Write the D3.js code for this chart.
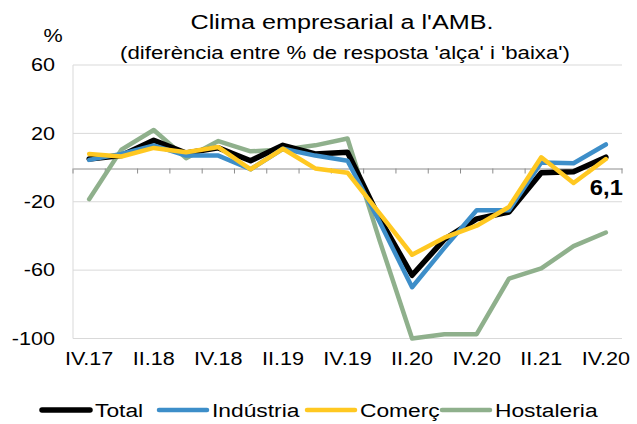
<!DOCTYPE html>
<html>
<head>
  <meta charset="utf-8">
  <title>Clima empresarial a l'AMB</title>
  <script src="https://cdnjs.cloudflare.com/ajax/libs/d3/7.8.5/d3.min.js"></script>
  <style>
    body { margin: 0; background: #fff; }
    text { font-family: "Liberation Sans", Arial, sans-serif; fill: #000; }
  </style>
</head>
<body>
<div id="chart"></div>
<script>

// quarters IV.17 .. IV.21 (the last label reads IV.20 on the original)
var quarters = ['IV.17','I.18','II.18','III.18','IV.18','I.19','II.19','III.19','IV.19',
                'I.20','II.20','III.20','IV.20','I.21','II.21','III.21','IV.20'];

var total      = [5, 7, 16, 8.5, 11.5, 4, 13, 8, 9, -30, -63, -42, -30, -26, -3, -2.5, 6.1];
var industria  = [4.5, 8, 13, 7, 7, -1, 11, 7, 4, -32, -70, -47, -25, -25, 3, 2.5, 13.5];
var comerc     = [8, 6.5, 11.5, 9, 12, -1, 11, -0.5, -3, -27, -51, -41, -34, -23, 6, -9, 5];
var hostaleria = [-18.5, 10.5, 22, 5.5, 15.5, 9.5, 10.5, 13, 17, -43, -100, -97.5, -97.5, -65, -59, -46, -38];

var yTicks = [60, 20, -20, -60, -100];

var series = [
  {name: 'Total',      values: total,      color: '#000000', width: 5.5},
  {name: 'Indústria',  values: industria,  color: '#3d8ec9', width: 4.5},
  {name: 'Comerç',     values: comerc,     color: '#ffc821', width: 4.5},
  {name: 'Hostaleria', values: hostaleria, color: '#8fb08c', width: 4.5}
];
// draw order: back to front
var drawOrder = [series[3], series[0], series[1], series[2]];

var W = 637, H = 424;
var SX = 1.2; // the original's text is a bit wide

var svg = d3.select('#chart').append('svg')
  .attr('width', W).attr('height', H);

// place a text at (px,py) stretched horizontally
function wide(px, py, k) {
  return 'translate(' + px + ',' + py + ') scale(' + (k || SX) + ',1)';
}

var x = d3.scaleBand()
  .domain(d3.range(quarters.length))
  .range([73, 622]);

var y = d3.scaleLinear()
  .domain([-100, 60])
  .range([338.5, 65]);

// gridlines
svg.append('g').selectAll('line')
  .data(yTicks)
  .enter().append('line')
  .attr('x1', 73).attr('x2', 622)
  .attr('y1', function(d){ return y(d); })
  .attr('y2', function(d){ return y(d); })
  .attr('stroke', '#d9d9d9').attr('stroke-width', 1);

// vertical axis line
svg.append('line')
  .attr('x1', 73).attr('x2', 73)
  .attr('y1', y(60)).attr('y2', y(-100))
  .attr('stroke', '#d9d9d9');

// y tick labels
svg.append('g').selectAll('text')
  .data(yTicks)
  .enter().append('text')
  .attr('transform', function(d){ return wide(55, y(d)); })
  .attr('dy', '0.35em')
  .attr('text-anchor', 'end')
  .style('font-size', '18px')
  .text(function(d){ return d; });

// category axis at zero with tick marks between categories
var xAxis = d3.axisBottom(x)
  .tickValues([])
  .tickSizeOuter(0);
var gx = svg.append('g')
  .attr('transform', 'translate(0,' + Math.round(y(0)) + '.5)')
  .call(xAxis);
gx.select('.domain').attr('stroke', '#8c8c8c');
gx.selectAll('.bound')
  .data(d3.range(quarters.length + 1))
  .enter().append('line')
  .attr('x1', function(i){ return i < quarters.length ? x(i) : x.range()[1]; })
  .attr('x2', function(i){ return i < quarters.length ? x(i) : x.range()[1]; })
  .attr('y1', 0).attr('y2', 5)
  .attr('stroke', '#8c8c8c');

// x labels, every other quarter, along the bottom
svg.append('g').selectAll('text')
  .data(d3.range(0, quarters.length, 2))
  .enter().append('text')
  .attr('transform', function(i){ return wide(x(i) + x.bandwidth() / 2, 365); })
  .attr('text-anchor', 'middle')
  .style('font-size', '18px')
  .text(function(i){ return quarters[i]; });

// lines
var line = d3.line()
  .x(function(d, i){ return x(i) + x.bandwidth() / 2; })
  .y(function(d){ return y(d); });

svg.append('g').selectAll('path')
  .data(drawOrder)
  .enter().append('path')
  .attr('d', function(s){ return line(s.values); })
  .attr('fill', 'none')
  .attr('stroke', function(s){ return s.color; })
  .attr('stroke-width', function(s){ return s.width; })
  .attr('stroke-linejoin', 'round')
  .attr('stroke-linecap', 'round');

// last value label of Total
var last = total.length - 1;
svg.append('text')
  .attr('transform', wide(x(last) + x.bandwidth() / 2 + 17, y(total[last]) + 38, 1.08))
  .attr('text-anchor', 'end')
  .style('font-size', '22px')
  .style('font-weight', 'bold')
  .text(String(total[last]).replace('.', ','));

// titles
svg.append('text')
  .attr('transform', wide(342, 29))
  .attr('text-anchor', 'middle')
  .style('font-size', '21px')
  .text("Clima empresarial a l'AMB.");
svg.append('text')
  .attr('transform', wide(345, 59))
  .attr('text-anchor', 'middle')
  .style('font-size', '18.5px')
  .text("(diferència entre % de resposta 'alça' i 'baixa')");
svg.append('text')
  .attr('transform', wide(53, 42))
  .attr('text-anchor', 'middle')
  .style('font-size', '18px')
  .text('%');

// legend
var legendX = [40, 157, 305, 440];
var lg = svg.append('g').selectAll('g')
  .data(series)
  .enter().append('g')
  .attr('transform', function(s, i){ return 'translate(' + legendX[i] + ',410)'; });
lg.append('line')
  .attr('x1', 2).attr('x2', 50)
  .attr('y1', 0).attr('y2', 0)
  .attr('stroke', function(s){ return s.color; })
  .attr('stroke-width', function(s){ return s.width; })
  .attr('stroke-linecap', 'round');
lg.append('text')
  .attr('transform', wide(55, 0))
  .attr('dy', '0.35em')
  .style('font-size', '19px')
  .text(function(s){ return s.name; });

</script>
</body>
</html>
